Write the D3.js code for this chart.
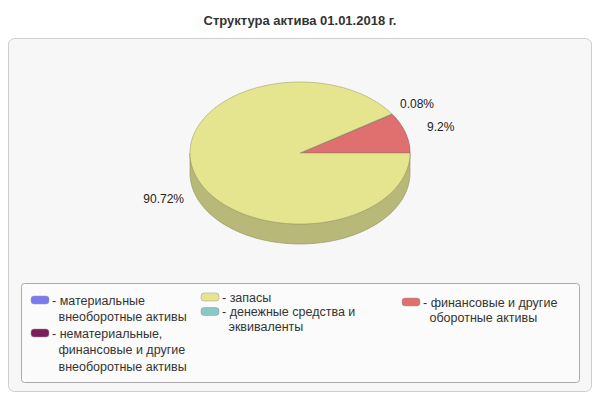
<!DOCTYPE html>
<html><head><meta charset="utf-8">
<script src="https://cdn.jsdelivr.net/npm/d3@7"></script>
<style>body{margin:0;background:#fff}</style>
</head><body><div id="chart"></div>
<script>
// data
var categories = ['финансовые и другие оборотные активы', 'денежные средства и эквиваленты', 'запасы',
	'материальные внеоборотные активы', 'нематериальные, финансовые и другие внеоборотные активы'];
var values = [9.2, 0.08, 90.72, 0, 0];
var colors = ['#e07070', '#8ac8c8', '#e5e58f', '#7b7bef', '#7a1f5a'];
var sideColors = ['#a85454', '#679696', '#b8b878', '#5c5cb3', '#5b1743'];
var pctLabels = ['9.2%', '0.08%', '90.72%'];

var legendCols = [
	[{c: 3, lines: ['- материальные', 'внеоборотные активы']},
	 {c: 4, lines: ['- нематериальные,', 'финансовые и другие', 'внеоборотные активы']}],
	[{c: 2, lines: ['- запасы']},
	 {c: 1, lines: ['- денежные средства и', 'эквиваленты']}],
	[{c: 0, lines: ['- финансовые и другие', 'оборотные активы']}]
];

var W = 600, H = 400;
var cx = 300, cy = 153, rx = 110, ry = 71, depth = 20;

var svg = d3.select('#chart').append('svg').attr('width', W).attr('height', H)
	.style('font-family', 'Liberation Sans, Arial, sans-serif');

svg.append('text').attr('x', 300).attr('y', 25).attr('text-anchor', 'middle')
	.attr('font-size', 13).attr('font-weight', 'bold').attr('fill', '#333')
	.text('Структура актива 01.01.2018 г.');

svg.append('rect').attr('x', 8.5).attr('y', 38.5).attr('width', 583).attr('height', 353)
	.attr('rx', 6).attr('fill', '#f7f7f7').attr('stroke', '#ccc');

// angle scale: share -> radians (counterclockwise from 3 o'clock)
var total = d3.sum(values);
var ang = d3.scaleLinear().domain([0, total]).range([0, 2 * Math.PI]);
var slices = [];
var acc = 0;
values.forEach(function(v, i) {
	slices.push({i: i, a0: ang(acc), a1: ang(acc + v), v: v});
	acc += v;
});

function pt(a, dy) { return [cx + rx * Math.cos(a), cy - ry * Math.sin(a) + (dy || 0)]; }
function arcPts(a0, a1, dy) {
	var n = Math.max(2, Math.ceil((a1 - a0) / 0.02));
	return d3.range(n + 1).map(function(k) { return pt(a0 + (a1 - a0) * k / n, dy); });
}
var line = d3.line();

var g = svg.append('g');
// side walls
slices.forEach(function(s) {
	var b0 = Math.max(s.a0, Math.PI), b1 = Math.min(s.a1, 2 * Math.PI);
	if (b1 <= b0) return;
	var top = arcPts(b0, b1, 0), bot = arcPts(b0, b1, depth).reverse();
	g.append('path').attr('d', line(top.concat(bot)) + 'Z')
		.attr('fill', sideColors[s.i]).attr('stroke', '#8f8f5a').attr('stroke-width', 0.6);
});
// top faces
slices.forEach(function(s) {
	if (s.v <= 0) return;
	var p = [[cx, cy]].concat(arcPts(s.a0, s.a1, 0));
	g.append('path').attr('d', line(p) + 'Z')
		.attr('fill', colors[s.i]).attr('stroke', d3.color(sideColors[s.i]).darker(0.4)).attr('stroke-width', 0.6);
});

// percentage labels
var labelPos = [[427, 131, 'start'], [400, 108, 'start'], [184, 203, 'end']];
pctLabels.forEach(function(t, i) {
	svg.append('text').attr('x', labelPos[i][0]).attr('y', labelPos[i][1])
		.attr('text-anchor', labelPos[i][2]).attr('font-size', 12).attr('fill', '#222').text(t);
});

// legend
svg.append('rect').attr('x', 21.5).attr('y', 283.5).attr('width', 558).attr('height', 99)
	.attr('rx', 3).attr('fill', '#fbfbfb').attr('stroke', '#aaa');
var colX = [31, 201, 402];
var colStart = [300, 297, 302];
var colLh = [16.5, 14.5, 15.5];
legendCols.forEach(function(col, ci) {
	var y = colStart[ci];
	col.forEach(function(item) {
		svg.append('rect').attr('x', colX[ci]).attr('y', y - 4).attr('width', 18).attr('height', 8)
			.attr('rx', 3).attr('fill', colors[item.c]).attr('stroke', '#999').attr('stroke-width', 0.5);
		item.lines.forEach(function(l, li) {
			svg.append('text').attr('x', colX[ci] + 21 + (li ? 6.5 : 0)).attr('y', y + 4.5)
				.attr('font-size', 12.5).attr('fill', '#333').text(l);
			y += colLh[ci];
		});
	});
});
</script></body></html>
